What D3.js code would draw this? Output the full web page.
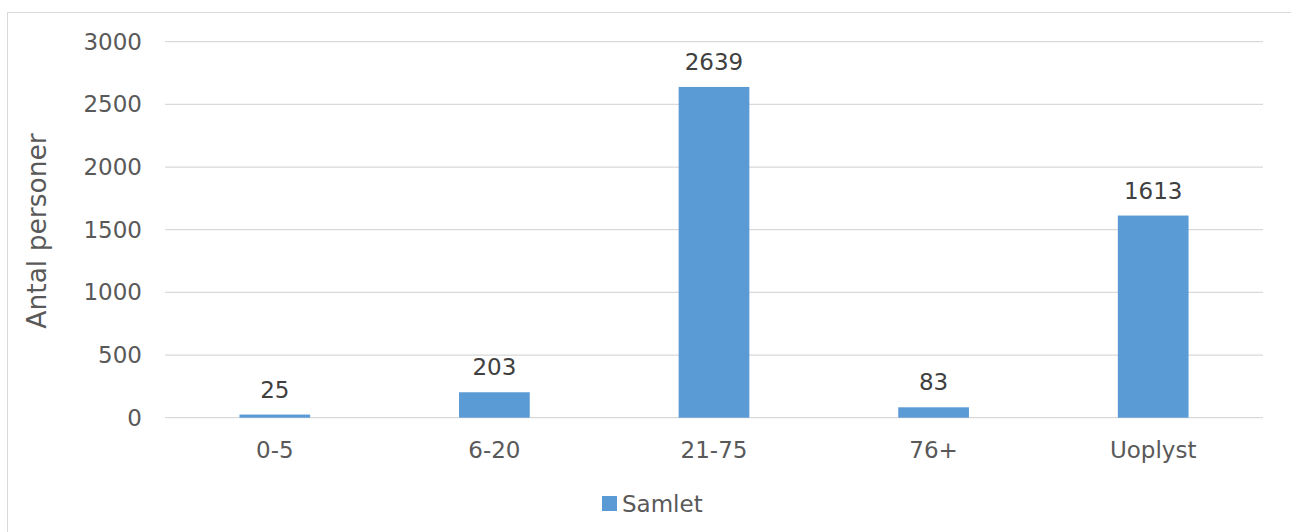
<!DOCTYPE html>
<html>
<head>
<meta charset="utf-8">
<script src="https://cdn.jsdelivr.net/npm/d3@7"></script>
<style>
  html, body { margin: 0; padding: 0; background: #fff; }
  svg { display: block; font-family: "DejaVu Sans", Verdana, sans-serif; }
</style>
</head>
<body>
<svg id="chart" width="1291" height="532"></svg>
<script>
// Age groups and number of persons
const categories = ["0-5", "6-20", "21-75", "76+", "Uoplyst"];
const values = [25, 203, 2639, 83, 1613];
const yTicks = [0, 500, 1000, 1500, 2000, 2500, 3000];
const seriesName = "Samlet";
const yTitle = "Antal personer";

const W = 1291, H = 532;
const plot = { left: 165, right: 1263, top: 41.7, bottom: 417.7 };
const svg = d3.select("#chart");

// Outer chart frame
svg.append("rect")
  .attr("x", 7.5).attr("y", 12.5)
  .attr("width", W + 10).attr("height", H + 10)
  .attr("fill", "#fff").attr("stroke", "#d9d9d9").attr("stroke-width", 1);

const x = d3.scaleBand().domain(categories)
  .range([plot.left, plot.right]).paddingInner(0.678).paddingOuter(0.339);
const y = d3.scaleLinear().domain([0, 3000]).range([plot.bottom, plot.top]);

// Horizontal gridlines
svg.append("g").selectAll("line").data(yTicks).join("line")
  .attr("x1", plot.left).attr("x2", plot.right)
  .attr("y1", d => y(d)).attr("y2", d => y(d))
  .attr("stroke", "#d9d9d9").attr("stroke-width", 1.3);

// Y axis tick labels
const yAxis = svg.append("g")
  .attr("transform", `translate(${plot.left},0)`)
  .call(d3.axisLeft(y).tickValues(yTicks).tickFormat(d3.format("d"))
    .tickSize(0).tickPadding(23));
yAxis.select(".domain").remove();
yAxis.selectAll("text")
  .attr("fill", "#595959").style("font-size", "23px")
  .style("font-family", "'DejaVu Sans', Verdana, sans-serif");

// Bars
svg.append("g").selectAll("rect").data(values).join("rect")
  .attr("x", (d, i) => x(categories[i]))
  .attr("width", x.bandwidth())
  .attr("y", d => y(d))
  .attr("height", d => y(0) - y(d))
  .attr("fill", "#5b9bd5");

// Value labels above bars
svg.append("g").selectAll("text").data(values).join("text")
  .attr("x", (d, i) => x(categories[i]) + x.bandwidth() / 2)
  .attr("y", d => y(d) - 17)
  .attr("text-anchor", "middle")
  .attr("fill", "#404040").style("font-size", "23px")
  .text(d => d);

// X axis category labels
const xAxis = svg.append("g")
  .attr("transform", `translate(0,${plot.bottom})`)
  .call(d3.axisBottom(x).tickSize(0).tickPadding(24));
xAxis.select(".domain").remove();
xAxis.selectAll("text")
  .attr("fill", "#595959").style("font-size", "23px")
  .style("font-family", "'DejaVu Sans', Verdana, sans-serif");

// Y axis title
svg.append("text")
  .attr("transform", "translate(46,231) rotate(-90)")
  .attr("text-anchor", "middle")
  .attr("fill", "#595959").style("font-size", "26.5px")
  .text(yTitle);

// Legend
const legend = svg.append("g").attr("transform", "translate(602,496)");
legend.append("rect").attr("width", 15).attr("height", 15).attr("fill", "#5b9bd5");
legend.append("text").attr("x", 20).attr("y", 15.5)
  .attr("fill", "#595959").style("font-size", "23px").text(seriesName);
</script>
</body>
</html>
